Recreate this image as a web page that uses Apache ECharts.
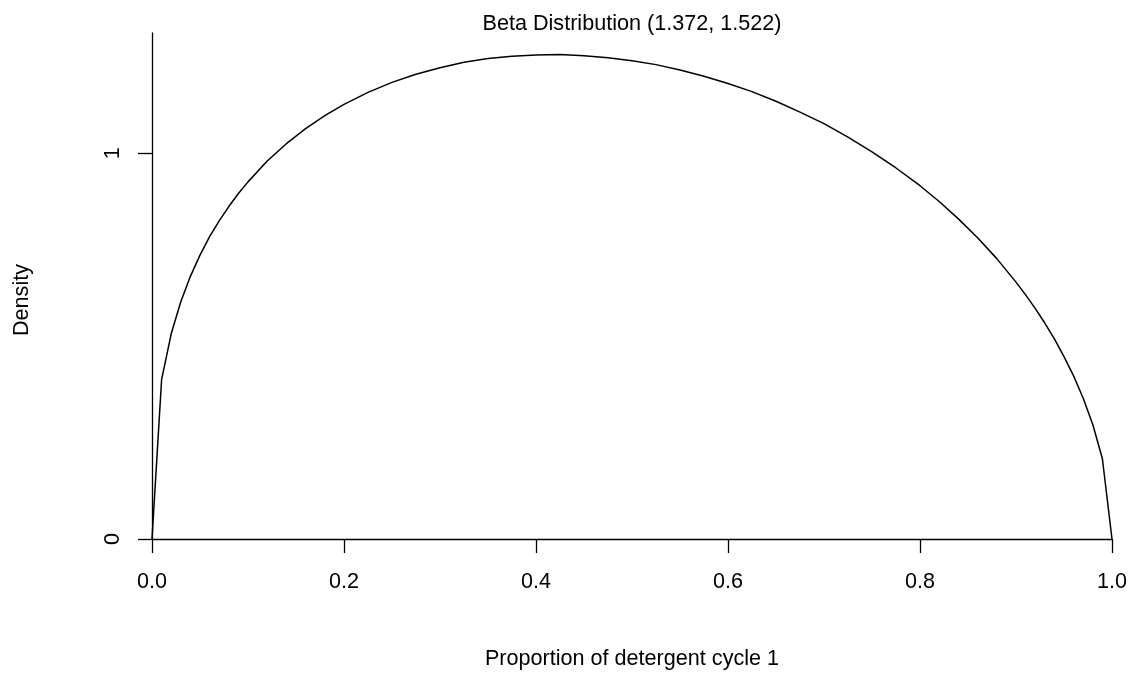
<!DOCTYPE html>
<html>
<head>
<meta charset="utf-8">
<title>Beta Distribution (1.372, 1.522)</title>
<script src="https://cdn.jsdelivr.net/npm/echarts@6/dist/echarts.min.js"></script>
<style>
  html, body { margin: 0; padding: 0; background: #ffffff; }
  #chart { width: 1130px; height: 675px; }
</style>
</head>
<body>
<div id="chart"></div>
<script>
// Proportion values (x) and the beta density at each of them
const proportion = [
  0.00, 0.01, 0.02, 0.03, 0.04, 0.05, 0.06, 0.07, 0.08, 0.09, 0.10,
  0.12, 0.14, 0.16, 0.18, 0.20, 0.225, 0.25, 0.275, 0.30, 0.325, 0.35,
  0.375, 0.40, 0.425, 0.45, 0.475, 0.50, 0.525, 0.55, 0.575, 0.60, 0.625,
  0.65, 0.675, 0.70, 0.725, 0.75, 0.775, 0.80, 0.82, 0.84, 0.86, 0.88, 0.90,
  0.91, 0.92, 0.93, 0.94, 0.95, 0.96, 0.97, 0.98, 0.99, 1.00
];
const density = [
  0.000, 0.413, 0.532, 0.615, 0.681, 0.736, 0.784, 0.825, 0.862, 0.896, 0.926,
  0.980, 1.025, 1.064, 1.098, 1.127, 1.158, 1.184, 1.205, 1.222, 1.236, 1.246,
  1.252, 1.255, 1.256, 1.253, 1.248, 1.240, 1.230, 1.216, 1.200, 1.181, 1.160,
  1.135, 1.107, 1.077, 1.042, 1.004, 0.962, 0.916, 0.875, 0.830, 0.781, 0.727, 0.666,
  0.633, 0.598, 0.560, 0.519, 0.473, 0.423, 0.365, 0.297, 0.208, 0.000
];
const xTicks = [0, 0.2, 0.4, 0.6, 0.8, 1.0];
const yTicks = [0, 1];

const FONT = '"Liberation Sans", Arial, sans-serif';
const FS = 21.6;

const chart = echarts.init(document.getElementById('chart'), null, { renderer: 'canvas' });

chart.setOption({
  animation: false,
  backgroundColor: '#ffffff',
  title: {
    text: 'Beta Distribution (1.372, 1.522)',
    left: 632,
    textAlign: 'center',
    top: 13,
    padding: 0,
    textStyle: { fontFamily: FONT, fontSize: FS, fontWeight: 'normal', color: '#000' }
  },
  grid: { left: 152, right: 18, top: 33, bottom: 129, containLabel: false },
  xAxis: {
    type: 'value',
    min: 0,
    max: 1,
    interval: 0.2,
    name: 'Proportion of detergent cycle 1',
    nameLocation: 'middle',
    nameGap: 109,
    nameTextStyle: { fontFamily: FONT, fontSize: FS, color: '#000' },
    splitLine: { show: false },
    axisLine: { show: true, onZero: false, lineStyle: { color: '#000', width: 1.3 } },
    axisTick: { show: true, inside: false, length: 14, customValues: xTicks, lineStyle: { color: '#000', width: 1.3 } },
    axisLabel: {
      customValues: xTicks,
      margin: 32,
      fontFamily: FONT, fontSize: FS, color: '#000',
      formatter: v => v.toFixed(1)
    }
  },
  yAxis: {
    type: 'value',
    min: 0,
    max: 1.312,
    splitLine: { show: false },
    axisLine: { show: true, onZero: false, lineStyle: { color: '#000', width: 1.3 } },
    axisTick: { show: true, inside: false, length: 14, customValues: yTicks, lineStyle: { color: '#000', width: 1.3 } },
    axisLabel: {
      customValues: yTicks,
      rotate: 90,
      margin: 28,
      fontFamily: FONT, fontSize: FS, color: '#000',
      formatter: v => String(v)
    }
  },
  graphic: [{
    type: 'text',
    x: 22,
    y: 300,
    rotation: Math.PI / 2,
    style: {
      text: 'Density',
      fontFamily: FONT,
      fontSize: FS,
      fill: '#000',
      align: 'center',
      verticalAlign: 'middle'
    }
  }],
  series: [{
    type: 'line',
    data: proportion.map((x, i) => [x, density[i]]),
    showSymbol: false,
    symbol: 'none',
    smooth: false,
    clip: false,
    lineStyle: { color: '#000', width: 1.5 }
  }]
});
</script>
</body>
</html>
